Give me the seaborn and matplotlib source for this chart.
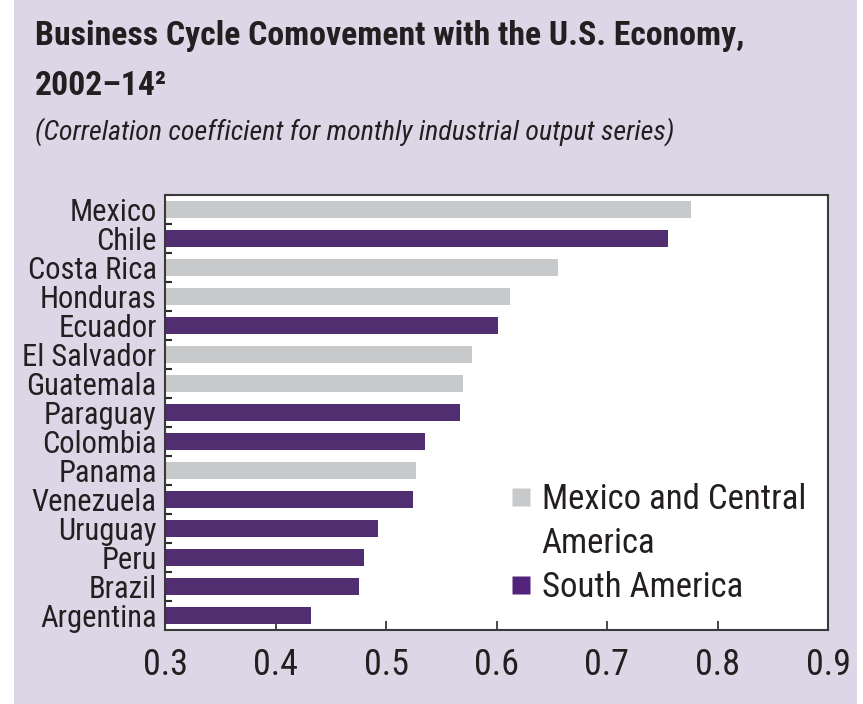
import numpy as np
import pandas as pd
import matplotlib
matplotlib.use("Agg")
import matplotlib.pyplot as plt
from matplotlib.patches import Rectangle
from matplotlib.lines import Line2D
import seaborn as sns

countries = ["Mexico", "Chile", "Costa Rica", "Honduras", "Ecuador", "El Salvador",
             "Guatemala", "Paraguay", "Colombia", "Panama", "Venezuela", "Uruguay",
             "Peru", "Brazil", "Argentina"]
values = [0.776, 0.755, 0.656, 0.612, 0.601, 0.578, 0.570, 0.567, 0.535, 0.527,
          0.524, 0.493, 0.480, 0.476, 0.432]
regions = ["Mexico and Central America", "South America", "Mexico and Central America",
           "Mexico and Central America", "South America", "Mexico and Central America",
           "Mexico and Central America", "South America", "South America",
           "Mexico and Central America", "South America", "South America",
           "South America", "South America", "South America"]
xticks = [0.3, 0.4, 0.5, 0.6, 0.7, 0.8, 0.9]
xtick_labels = ["0.3", "0.4", "0.5", "0.6", "0.7", "0.8", "0.9"]
palette = {"Mexico and Central America": "#C8C9CB", "South America": "#52237A"}

df = pd.DataFrame({"country": countries, "value": values, "region": regions})

sns.set_theme(style="white")
FONT = ["Roboto Condensed", "Archivo Narrow", "DejaVu Sans"]
plt.rcParams["font.family"] = FONT
TXT = "#231F20"

fig = plt.figure(figsize=(8.63, 7.04), dpi=100, facecolor="white")
bg = Rectangle((14 / 863, 0), (857 - 14) / 863, 1, transform=fig.transFigure,
               facecolor="#DDD6E7", edgecolor="none", zorder=-10)
fig.patches.append(bg)

W, H = 863, 704
ax = fig.add_axes([165 / W, 1 - 630 / H, (828 - 165) / W, (630 - 195) / H])
ax.set_zorder(1)
sns.barplot(data=df, y="country", x="value", hue="region", palette=palette,
            dodge=False, orient="h", width=0.57, linewidth=0, ax=ax, legend=False)

ax.set_facecolor("white")
ax.set_xlim(0.3, 0.9)
ax.set_ylim(len(countries) - 0.5, -0.5)
ax.set_xticks(xticks)
ax.set_xticklabels(xtick_labels)
ax.set_xlabel("")
ax.set_ylabel("")
for s in ax.spines.values():
    s.set_visible(True)
    s.set_color("#3A3A3A")
    s.set_linewidth(1.5)
ax.tick_params(axis="x", which="major", bottom=True, direction="in", length=6.5, width=1.3,
               color="#3A3A3A", labelsize=26, labelcolor=TXT, pad=12)
ax.tick_params(axis="y", which="major", left=False, length=0, labelsize=22,
               labelcolor=TXT, pad=6)
ax.set_yticks(np.arange(-0.5, len(countries) - 0.5, 1.0), minor=True)
ax.tick_params(axis="y", which="minor", left=True, direction="in", length=5, width=1.5,
               color="#2A2A2A")

handles = [Line2D([], [], marker="s", linestyle="none", markersize=13,
                  markerfacecolor="#C8C9CB", markeredgecolor="none"),
           Line2D([], [], marker="s", linestyle="none", markersize=13,
                  markerfacecolor="none", markeredgecolor="none"),
           Line2D([], [], marker="s", linestyle="none", markersize=13,
                  markerfacecolor="#52237A", markeredgecolor="none")]
leg = ax.legend(handles, ["Mexico and Central", "America", "South America"],
                loc="upper left", bbox_to_anchor=(0.5, 0.37), frameon=False,
                fontsize=25, handlelength=0.6, handletextpad=0.3, labelspacing=0.32,
                borderaxespad=0)
for t in leg.get_texts():
    t.set_color(TXT)

fig.text(35 / W, 1 - 36 / H, "Business Cycle Comovement with the U.S. Economy,",
         fontsize=24.3, fontweight="bold", color=TXT, va="center", ha="left")
fig.text(35 / W, 1 - 86 / H, "2002–14²", fontsize=24.3, fontweight="bold",
         color=TXT, va="center", ha="left")
fig.text(35 / W, 1 - 132 / H, "(Correlation coefficient for monthly industrial output series)",
         fontsize=20.2, fontstyle="italic", color=TXT, va="center", ha="left")

fig.savefig("out.png", dpi=100, facecolor="white")
